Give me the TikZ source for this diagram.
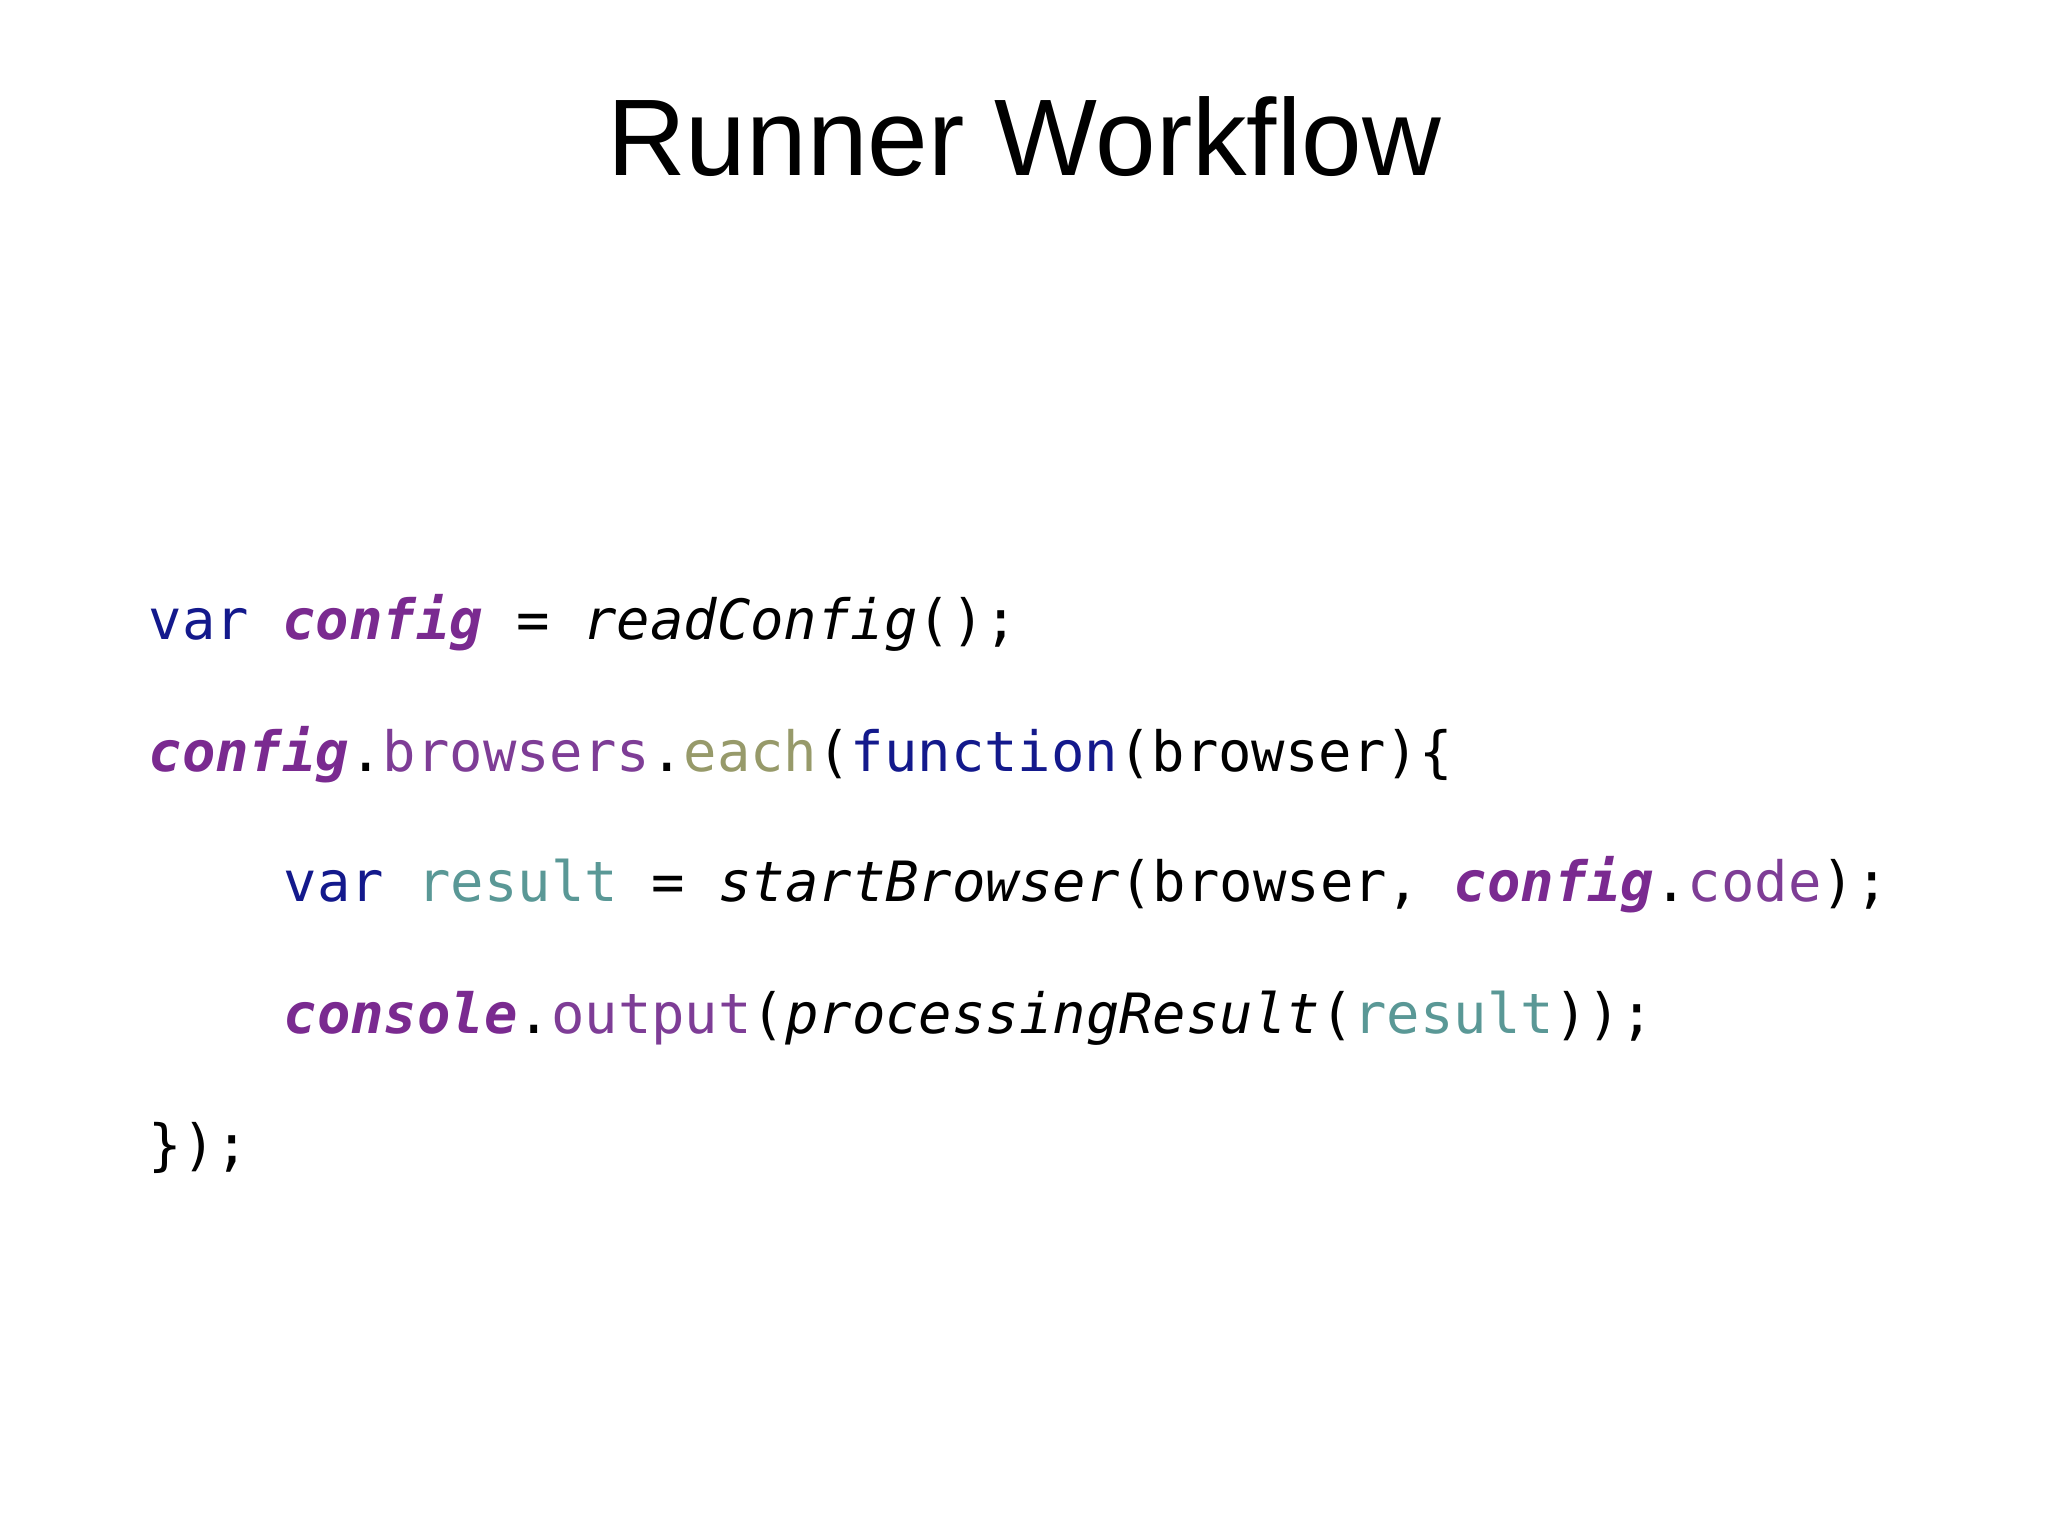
\documentclass[tikz,border=0pt]{standalone}
\usepackage{fontspec}
\setmainfont{Liberation Sans}
\setmonofont{DejaVu Sans Mono}
\definecolor{kw}{HTML}{13198C}
\definecolor{pv}{HTML}{7A2A90}
\definecolor{pm}{HTML}{7E3D96}
\definecolor{ol}{HTML}{979A6A}
\definecolor{tl}{HTML}{5A9896}
\newcommand{\K}[1]{\textcolor{kw}{#1}}
\newcommand{\PV}[1]{\textcolor{pv}{\bfseries\itshape #1}}
\newcommand{\PM}[1]{\textcolor{pm}{#1}}
\newcommand{\OL}[1]{\textcolor{ol}{#1}}
\newcommand{\TL}[1]{\textcolor{tl}{#1}}
\newcommand{\IT}[1]{{\itshape #1}}
\begin{document}
\begin{tikzpicture}[x=1cm,y=1cm,code/.style={anchor=base west,inner sep=0pt,font=\ttfamily\fontsize{15.8}{18}\selectfont}]
\useasboundingbox[fill=white] (0,0) rectangle (20.48,-15.36);
\node[anchor=base,inner sep=0pt,font=\fontsize{31}{36}\selectfont] (title) at (10.24,-1.76) {Runner Workflow};
\node[code] (l1) at (1.48,-6.40) {\K{var} \PV{config} = \IT{readConfig}();};
\node[code] (l2) at (1.48,-7.71) {\PV{config}.\PM{browsers}.\OL{each}(\K{function}(browser)\{};
\node[code] (l3) at (2.83,-9.02) {\K{var} \TL{result} = \IT{startBrowser}(browser, \PV{config}.\PM{code});};
\node[code] (l4) at (2.83,-10.33) {\PV{console}.\PM{output}(\IT{processingResult}(\TL{result}));};
\node[code] (l5) at (1.48,-11.64) {\});};
\end{tikzpicture}
\end{document}
